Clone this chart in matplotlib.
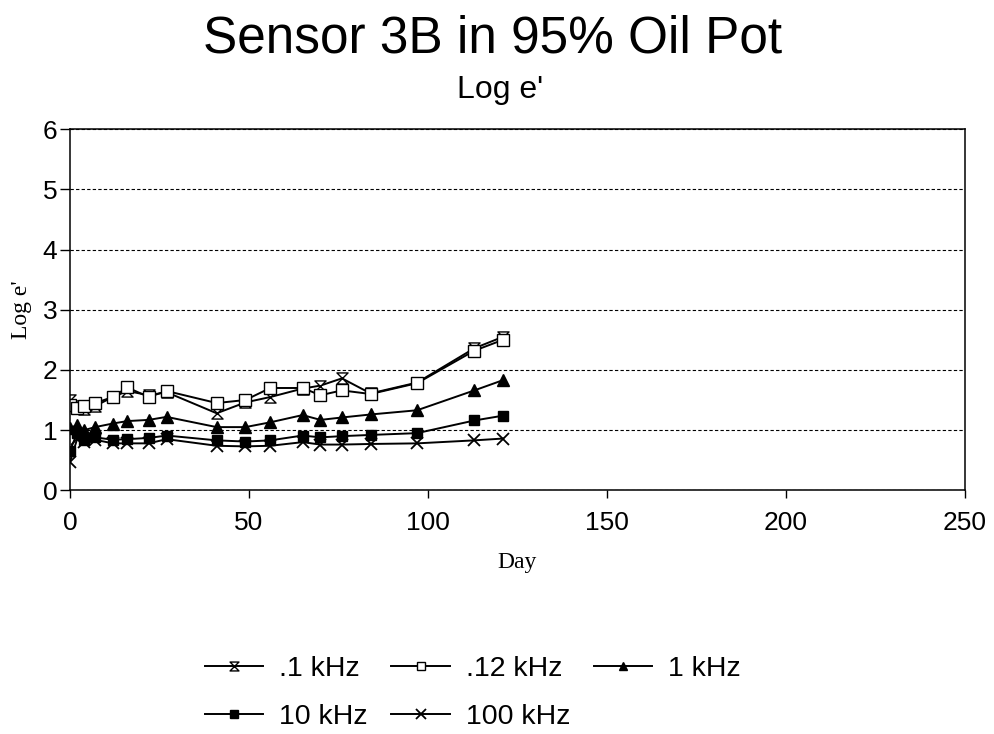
import matplotlib
matplotlib.use("Agg")
import matplotlib.pyplot as plt
from matplotlib.path import Path

days = [0, 2, 4, 7, 12, 16, 22, 27, 41, 49, 56, 65, 70, 76, 84, 97, 113, 121]
k01 = [1.50, 1.40, 1.35, 1.40, 1.55, 1.65, 1.58, 1.63, 1.28, 1.46, 1.55, 1.69, 1.74, 1.86, 1.61, 1.79, 2.36, 2.55]
k012 = [1.42, 1.36, 1.40, 1.45, 1.55, 1.71, 1.55, 1.65, 1.45, 1.50, 1.70, 1.70, 1.58, 1.66, 1.60, 1.78, 2.32, 2.50]
k1 = [1.04, 1.08, 1.00, 1.05, 1.11, 1.15, 1.17, 1.22, 1.05, 1.05, 1.13, 1.25, 1.17, 1.21, 1.26, 1.33, 1.66, 1.83]
k10 = [0.66, 0.95, 0.83, 0.88, 0.84, 0.85, 0.87, 0.91, 0.83, 0.81, 0.83, 0.91, 0.88, 0.90, 0.92, 0.95, 1.16, 1.24]
k100 = [0.47, 0.85, 0.80, 0.84, 0.78, 0.78, 0.78, 0.85, 0.74, 0.73, 0.74, 0.80, 0.76, 0.76, 0.77, 0.78, 0.83, 0.86]
labels = [".1 kHz", ".12 kHz", "1 kHz", "10 kHz", "100 kHz"]
x_ticks = [0, 50, 100, 150, 200, 250]
y_ticks = [0, 1, 2, 3, 4, 5, 6]

hourglass = Path([(-1, 1), (1, 1), (-1, -1), (1, -1), (-1, 1)],
                 [Path.MOVETO, Path.LINETO, Path.LINETO, Path.LINETO, Path.CLOSEPOLY])

fig = plt.figure(figsize=(9.94, 7.34), dpi=100)
ax = fig.add_axes([0.0704, 0.332, 0.900, 0.492])

sans = "Liberation Sans"
serif = "Liberation Serif"

series = [k01, k012, k1, k10, k100]
styles = [
    dict(marker=hourglass, markersize=8, markerfacecolor="white", markeredgecolor="black"),
    dict(marker="s", markersize=8, markerfacecolor="white", markeredgecolor="black"),
    dict(marker="^", markersize=8, markerfacecolor="black", markeredgecolor="black"),
    dict(marker="s", markersize=7.5, markerfacecolor="black", markeredgecolor="black"),
    dict(marker="x", markersize=9, markeredgecolor="black", markeredgewidth=1.3),
]
handles = []
for vals, st, lab in zip(series, styles, labels):
    h, = ax.plot(days, vals, color="black", lw=1.4, label=lab, **st)
    handles.append(h)

ax.set_xlim(0, 250)
ax.set_ylim(0, 6)
ax.set_xticks(x_ticks)
ax.set_yticks(y_ticks)
ax.tick_params(axis="x", direction="out", length=6, width=1, labelsize=19, pad=9)
ax.tick_params(axis="y", direction="out", length=7, width=1, labelsize=19, pad=2)
for lab in ax.get_xticklabels() + ax.get_yticklabels():
    lab.set_fontfamily(sans)
ax.yaxis.grid(True, linestyle=(0, (3, 2)), color="black", lw=0.8)
for s in ax.spines.values():
    s.set_linewidth(1.1)

ax.set_xlabel("Day", fontfamily=serif, fontsize=17, labelpad=12)
ax.set_ylabel("Log e'", fontfamily=serif, fontsize=17, labelpad=8)

fig.text(0.496, 0.947, "Sensor 3B in 95% Oil Pot", ha="center", va="center",
         fontfamily=sans, fontsize=37)
fig.text(0.503, 0.878, "Log e'", ha="center", va="center",
         fontfamily=sans, fontsize=23)

order = [0, 3, 1, 4, 2]
fig.legend([handles[i] for i in order], [labels[i] for i in order],
           loc="upper left", bbox_to_anchor=(0.206, 0.106), ncol=3,
           frameon=False, prop=dict(family=sans, size=20.5), handlelength=2.05,
           handletextpad=0.55, columnspacing=0.85, labelspacing=0.78,
           borderaxespad=0, borderpad=0, markerscale=0.8)

fig.savefig("out.png", dpi=100)
